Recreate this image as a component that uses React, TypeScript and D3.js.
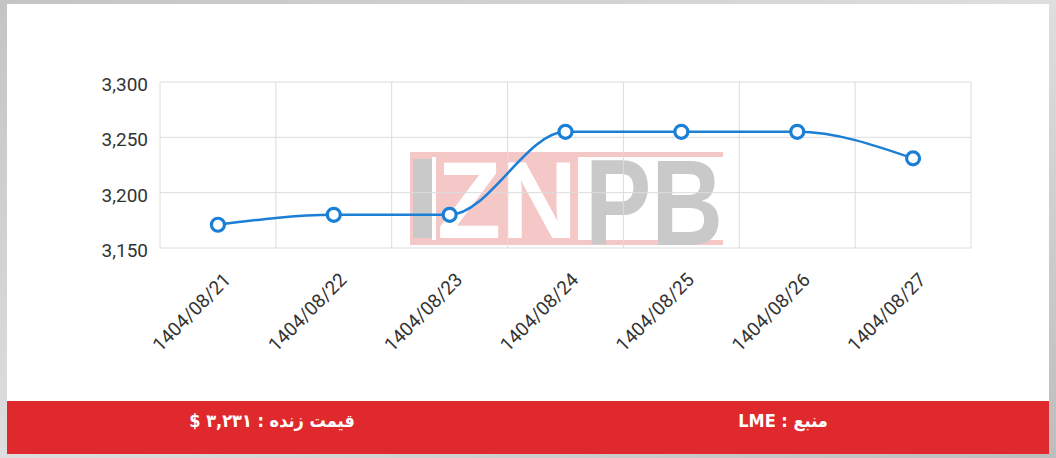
import React from "react";
import * as d3 from "d3";

const categories = ["1404/08/21", "1404/08/22", "1404/08/23", "1404/08/24", "1404/08/25", "1404/08/26", "1404/08/27"];
const prices = [3171, 3180, 3180, 3255, 3255, 3255, 3231];
const yTicks = [3150, 3200, 3250, 3300];
const livePriceLabel = "قیمت زنده : ۳,۲۳۱ $";
const sourceLabel = "منبع : LME";

const W = 1056;
const H = 458;
const plot = { left: 160, right: 971, top: 82, bottom: 248 };

export default function App() {
  const x = d3.scaleBand<string>().domain(categories).range([plot.left, plot.right]).padding(0);
  const y = d3.scaleLinear().domain([3150, 3300]).range([plot.bottom, plot.top]);
  const fmt = d3.format(",");
  const line = d3
    .line<number>()
    .x((_, i) => (x(categories[i]) as number) + x.bandwidth() / 2)
    .y((d) => y(d))
    .curve(d3.curveMonotoneX);
  const blue = "#1a7fd5";
  const grid = "#dcdcdc";

  return (
    <svg width={W} height={H} style={{ position: "absolute", left: 0, top: 0, display: "block" }}>
      <defs>
        <linearGradient id="frame" x1="0" y1="0" x2="1" y2="1">
          <stop offset="0" stopColor="#c4c4c4" />
          <stop offset="0.5" stopColor="#dedede" />
          <stop offset="1" stopColor="#bdbdbd" />
        </linearGradient>
      </defs>
      <rect x={0} y={0} width={W} height={H} fill="url(#frame)" />
      <rect x={7} y={4} width={1042} height={450} fill="#ffffff" />

      {/* watermark */}
      <g>
        <rect x={410} y={152} width={313} height={5} fill="#f5c8c8" />
        <rect x={410} y={240} width={313} height={5} fill="#f5c8c8" />
        <rect x={410} y={157} width={168} height={83} fill="#f5c8c8" />
        <rect x={413} y={159} width={19} height={79} fill="#c9c9c9" />
        <rect x={432} y={157} width={4} height={83} fill="#ffffff" />
        <text x={437} y={238} fontFamily="Liberation Sans, Arial" fontWeight="bold" fontSize={109} fill="#ffffff" textLength={140} lengthAdjust="spacingAndGlyphs">ZN</text>
        <text x={585} y={245} fontFamily="Liberation Sans, Arial" fontWeight="bold" fontSize={123} fill="#c9c9c9" textLength={138} lengthAdjust="spacingAndGlyphs">PB</text>
      </g>

      {/* grid */}
      {yTicks.map((t) => (
        <line key={"h" + t} x1={plot.left} x2={plot.right} y1={y(t)} y2={y(t)} stroke={grid} strokeWidth={1} />
      ))}
      {categories.map((c) => (
        <line key={"v" + c} x1={x(c)} x2={x(c)} y1={plot.top} y2={plot.bottom} stroke={grid} strokeWidth={1} />
      ))}
      <line x1={plot.right} x2={plot.right} y1={plot.top} y2={plot.bottom} stroke={grid} strokeWidth={1} />

      {/* y labels */}
      {yTicks.map((t) => (
        <text key={"yl" + t} x={148} y={y(t) + 9} textAnchor="end" fontFamily="Roboto" fontSize={19} fill="#333">
          {fmt(t)}
        </text>
      ))}

      {/* x labels */}
      {categories.map((c) => {
        const cx = (x(c) as number) + x.bandwidth() / 2;
        return (
          <text key={"xl" + c} transform={`translate(${cx + 14},${281}) rotate(-45)`} textAnchor="end" fontFamily="Roboto" fontSize={19} fill="#333">
            {c}
          </text>
        );
      })}

      {/* line */}
      <path d={line(prices) || ""} fill="none" stroke={blue} strokeWidth={2.5} />
      {prices.map((p, i) => (
        <circle key={"pt" + i} cx={(x(categories[i]) as number) + x.bandwidth() / 2} cy={y(p)} r={6.5} fill="#fff" stroke={blue} strokeWidth={3.2} />
      ))}

      {/* footer */}
      <rect x={7} y={401} width={1042} height={53} fill="#e0292c" />
      <text x={272} y={427} textAnchor="middle" direction="rtl" fontFamily="DejaVu Sans Condensed, DejaVu Sans" fontWeight="bold" fontSize={18} fill="#fff">
        {livePriceLabel}
      </text>
      <text x={783} y={427} textAnchor="middle" direction="rtl" fontFamily="DejaVu Sans Condensed, DejaVu Sans" fontWeight="bold" fontSize={18} fill="#fff">
        {sourceLabel}
      </text>
    </svg>
  );
}
